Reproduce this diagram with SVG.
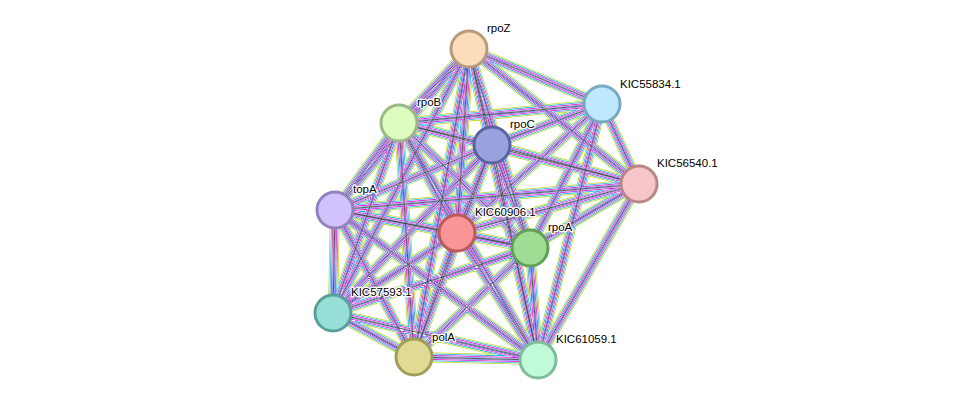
<svg xmlns="http://www.w3.org/2000/svg" width="976" height="406" viewBox="0 0 976 406">
<style>
.n{stroke-width:3}
.t{font-family:"Liberation Sans",Arial,sans-serif;font-size:11.5px;fill:#000;stroke:#fff;stroke-width:2.5px;paint-order:stroke;stroke-linejoin:round}
.e{fill:none;stroke-linecap:butt}
</style>
<defs>
<path id="E" d="M469,49L602,104M469,49L399,123M469,49L492,145M469,49L639,184M469,49L335,210M469,49L457,233M469,49L530,248M469,49L333,313M469,49L414,357M469,49L538,360
M602,104L399,123M602,104L492,145M602,104L639,184M602,104L457,233M602,104L530,248M602,104L538,360
M399,123L492,145M399,123L639,184M399,123L335,210M399,123L457,233M399,123L530,248M399,123L333,313M399,123L414,357M399,123L538,360
M492,145L639,184M492,145L335,210M492,145L457,233M492,145L530,248M492,145L333,313M492,145L414,357M492,145L538,360
M639,184L335,210M639,184L457,233M639,184L530,248M639,184L538,360
M335,210L457,233M335,210L530,248M335,210L333,313M335,210L414,357M335,210L538,360
M457,233L530,248M457,233L333,313M457,233L414,357M457,233L538,360
M530,248L333,313M530,248L414,357M530,248L538,360
M333,313L414,357M333,313L538,360M414,357L538,360"/>
</defs>
<g id="connectors" class="e">
<use href="#E" stroke="#c2d62a" stroke-width="10"/>
<use href="#E" stroke="#fff" stroke-width="8.4"/>
<use href="#E" stroke="#2ab4d8" stroke-width="7.4"/>
<use href="#E" stroke="#fff" stroke-width="5.8"/>
<use href="#E" stroke="#d62ad6" stroke-width="4.8"/>
<use href="#E" stroke="#fff" stroke-width="3.2"/>
<use href="#E" stroke="#2a2af0" stroke-width="2.2"/>
<use href="#E" stroke="#fff" stroke-width="1.4"/>
<use href="#E" stroke="#444" stroke-width="0.9"/>
</g>
<g id="rpoZ"><circle class="n" cx="469" cy="49" r="18" fill="#fddcbc" stroke="#b89a7c"/><text class="t" x="487" y="32">rpoZ</text></g>
<g id="KIC55834.1"><circle class="n" cx="602" cy="104" r="18" fill="#bfe8fc" stroke="#7aa9c4"/><text class="t" x="620" y="88">KIC55834.1</text></g>
<g id="rpoB"><circle class="n" cx="399" cy="123" r="18" fill="#ddfcc0" stroke="#9ab985"/><text class="t" x="417" y="106">rpoB</text></g>
<g id="rpoC"><circle class="n" cx="492" cy="145" r="18" fill="#98a2dc" stroke="#5a64a0"/><text class="t" x="510" y="128">rpoC</text></g>
<g id="KIC56540.1"><circle class="n" cx="639" cy="184" r="18" fill="#f7c6c8" stroke="#b98789"/><text class="t" x="657" y="167">KIC56540.1</text></g>
<g id="topA"><circle class="n" cx="335" cy="210" r="18" fill="#d1c2fb" stroke="#9482be"/><text class="t" x="353" y="193">topA</text></g>
<g id="KIC60906.1"><circle class="n" cx="457" cy="233" r="18" fill="#f99596" stroke="#bb5a5b"/><text class="t" x="475" y="216">KIC60906.1</text></g>
<g id="rpoA"><circle class="n" cx="530" cy="248" r="18" fill="#9fdc94" stroke="#62a05a"/><text class="t" x="548" y="231">rpoA</text></g>
<g id="KIC57593.1"><circle class="n" cx="333" cy="313" r="18" fill="#96ded6" stroke="#5aa09a"/><text class="t" x="351" y="296">KIC57593.1</text></g>
<g id="polA"><circle class="n" cx="414" cy="357" r="18" fill="#dfdb95" stroke="#a09c5a"/><text class="t" x="432" y="341">polA</text></g>
<g id="KIC61059.1"><circle class="n" cx="538" cy="360" r="18" fill="#c0fad8" stroke="#80bc9a"/><text class="t" x="556" y="343">KIC61059.1</text></g>
</svg>
